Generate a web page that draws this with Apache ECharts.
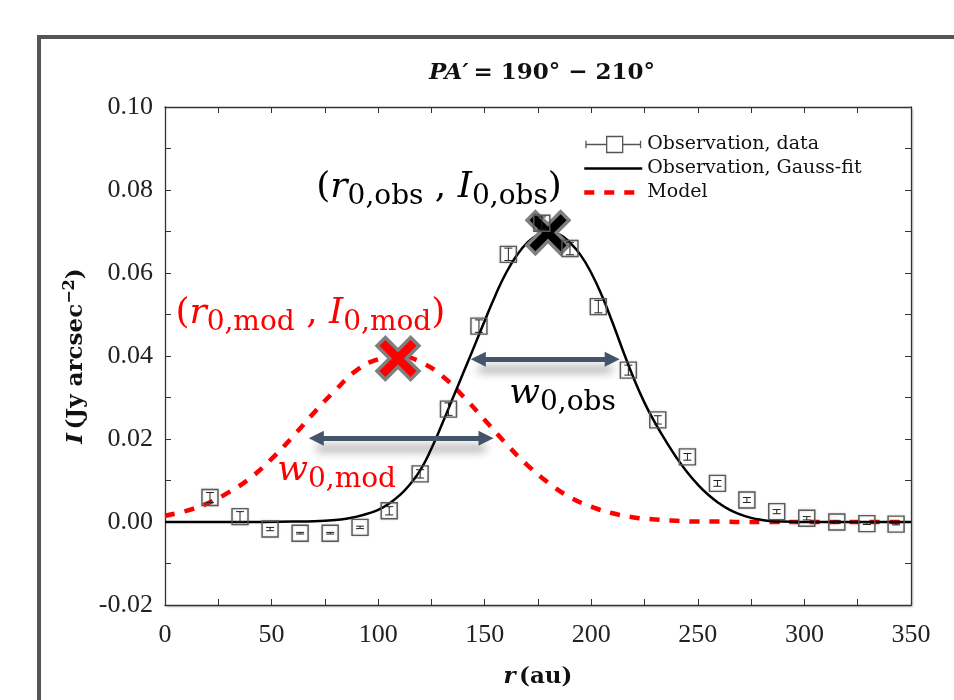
<!DOCTYPE html>
<html><head><meta charset="utf-8">
<script src="https://cdn.jsdelivr.net/npm/echarts@6/dist/echarts.min.js"></script>
<style>html,body{margin:0;padding:0;background:#fff}#c{width:954px;height:700px}</style>
</head><body><div id="c"></div>
<script>
// ---- Observation data (squares with error bars) ----
const obsR = [21.1,35.2,49.3,63.4,77.5,91.5,105.2,119.7,133.0,147.3,161.1,176.8,190.0,203.3,217.4,231.2,245.1,259.2,273.0,287.0,301.1,315.2,329.3,343.0];
const obsI = [0.0059,0.0013,-0.0017,-0.0027,-0.0027,-0.0013,0.0027,0.0116,0.0272,0.0472,0.0645,0.0720,0.0659,0.0519,0.0366,0.0246,0.0157,0.0093,0.0053,0.0025,0.0009,0.0000,-0.0004,-0.0005];
const obsErr = [0.0012,0.0012,0.0004,0.0002,0.0002,0.0003,0.0010,0.0010,0.0015,0.0015,0.0015,0.0015,0.0015,0.0015,0.0012,0.0010,0.0008,0.0007,0.0006,0.0005,0.0004,0.0003,0.0002,0.0002];

// ---- Observation Gauss-fit (black solid) ----
const fitR = [0,20,40,60,70,80,85,90,95,100,105,110,115,120,125,130,135,140,145,150,155,160,165,170,175,180,185,190,195,200,205,210,215,220,225,230,235,240,245,250,255,260,265,270,275,280,285,290,300,325,350];
const fitI = [0,0,0,0.0001,0.0002,0.0005,0.0008,0.0013,0.0020,0.0029,0.0044,0.0064,0.0091,0.0127,0.0177,0.0236,0.0298,0.0360,0.0422,0.0485,0.0546,0.0600,0.0642,0.0673,0.0692,0.0699,0.0693,0.0673,0.0643,0.0600,0.0545,0.0480,0.0411,0.0345,0.0287,0.0238,0.0195,0.0155,0.0120,0.0090,0.0065,0.0045,0.0029,0.0018,0.0010,0.0005,0.0002,0.0001,0,0,0];

// ---- Model (red dashed) ----
const modR = [0,10,20,30,40,50,60,70,80,90,100,110,120,130,140,150,160,170,180,190,200,210,220,230,240,250,260,270,280,300,320,346];
const modI = [0.0015,0.0027,0.0045,0.0072,0.0106,0.0152,0.0206,0.0264,0.0318,0.0366,0.0392,0.0400,0.0385,0.0352,0.0302,0.0246,0.0189,0.0137,0.0094,0.0060,0.0037,0.0021,0.0011,0.0006,0.0003,0.0001,0.0001,0,0,0,0,0];

// ---- Annotations (data coordinates) ----
const obsPeak = [179.7, 0.0697];
const modPeak = [109.3, 0.0394];
const obsArrow = [[147.0, 0.0392], [209.8, 0.0392]];
const modArrow = [[71.0, 0.0202], [150.6, 0.0202]];
const labelObsPeak = { at: [128.6, 0.0805], color: '#000', parts: [['p','('],['m','r'],['s','0,obs'],['p',' , '],['m','I'],['s','0,obs'],['p',')']] };
const labelModPeak = { at: [68.2, 0.0503], color: '#ff0000', parts: [['p','('],['m','r'],['s','0,mod'],['p',' , '],['m','I'],['s','0,mod'],['p',')']] };
const labelObsW = { at: [186.5, 0.0310], color: '#000', parts: [['m','w'],['s','0,obs']] };
const labelModW = { at: [80.5, 0.0124], color: '#ff0000', parts: [['m','w'],['s','0,mod']] };

const titleText = ['PA′', '= 190° − 210°'];
const legendNames = ['Observation, data', 'Observation, Gauss-fit', 'Model'];

const serif = 'DejaVu Serif';
const tickFont = 'Liberation Serif';
const xPlus = 'path://M-0.85,-4.5L0.85,-4.5L0.85,-0.85L4.5,-0.85L4.5,0.85L0.85,0.85L0.85,4.5L-0.85,4.5L-0.85,0.85L-4.5,0.85L-4.5,-0.85L-0.85,-0.85Z';

const chart = echarts.init(document.getElementById('c'));

const axisCommon = {
  min: 0, max: 350, interval: 50,
  axisLine: { show: true, onZero: false, lineStyle: { color: '#333', width: 1.3 } },
  axisTick: { show: true, inside: true, length: 6, lineStyle: { color: '#333', width: 1 } },
  minorTick: { show: true, splitNumber: 2, length: 6, lineStyle: { color: '#333', width: 1 } },
  splitLine: { show: false }
};
const yCommon = Object.assign({}, axisCommon, { min: -0.02, max: 0.10, interval: 0.02 });

const option = {
  animation: false,
  backgroundColor: '#fff',
  title: {
    text: '{a|' + titleText[0] + '} {b|' + titleText[1] + '}',
    left: 537, top: 57, textAlign: 'center',
    textStyle: {
      rich: {
        a: { fontFamily: serif, fontSize: 23, fontWeight: 'bold', fontStyle: 'italic', color: '#111' },
        b: { fontFamily: serif, fontSize: 23, fontWeight: 'bold', color: '#111' }
      }
    }
  },
  grid: { left: 165, right: 43, top: 107, bottom: 95, show: true, backgroundColor: '#fff', borderWidth: 0,
          shadowColor: 'rgba(0,0,0,0.25)', shadowBlur: 2, shadowOffsetX: 2, shadowOffsetY: 2 },
  legend: {
    orient: 'vertical', left: 582, top: 135, padding: 0, itemWidth: 58, itemHeight: 16, itemGap: 5,
    textStyle: { fontFamily: serif, fontSize: 19, color: '#111', lineHeight: 16 },
    data: [
      { name: legendNames[0], icon: 'path://M0,4.5L0,12.5M0,8.5L22,8.5M22,0L39,0L39,17L22,17ZM39,8.5L58,8.5M58,4.5L58,12.5',
        itemStyle: { color: 'rgba(0,0,0,0)', borderColor: '#555', borderWidth: 1.3 } },
      { name: legendNames[1], itemStyle: { color: 'rgba(0,0,0,0)', borderWidth: 0, opacity: 0 },
        lineStyle: { color: '#000', width: 2.5, type: 'solid' } },
      { name: legendNames[2], itemStyle: { color: 'rgba(0,0,0,0)', borderWidth: 0, opacity: 0 },
        lineStyle: { color: '#ff0000', width: 4.5, type: [10, 10] } }
    ]
  },
  xAxis: [
    Object.assign({}, axisCommon, {
      type: 'value', position: 'bottom',
      axisLabel: { margin: 17, fontFamily: tickFont, fontSize: 26, color: '#222' },
      name: '{i|r} {n|(au)}', nameLocation: 'middle', nameGap: 61,
      nameTextStyle: { rich: {
        i: { fontFamily: serif, fontSize: 23, fontWeight: 'bold', fontStyle: 'italic', color: '#111' },
        n: { fontFamily: serif, fontSize: 23, fontWeight: 'bold', color: '#111' } } }
    }),
    Object.assign({}, axisCommon, { type: 'value', position: 'top', axisLabel: { show: false } })
  ],
  yAxis: [
    Object.assign({}, yCommon, {
      type: 'value', position: 'left',
      axisLabel: { margin: 12, fontFamily: tickFont, fontSize: 26, color: '#222', formatter: v => v.toFixed(2) },
      name: '{i|I} {n|(Jy arcsec}{s|−2}{n|)}', nameLocation: 'middle', nameGap: 75, nameRotate: 90,
      nameTextStyle: { rich: {
        i: { fontFamily: serif, fontSize: 23, fontWeight: 'bold', fontStyle: 'italic', color: '#111', lineHeight: 28 },
        n: { fontFamily: serif, fontSize: 23, fontWeight: 'bold', color: '#111', lineHeight: 28 },
        s: { fontFamily: serif, fontSize: 16, fontWeight: 'bold', color: '#111', lineHeight: 16, verticalAlign: 'top' } } }
    }),
    Object.assign({}, yCommon, { type: 'value', position: 'right', axisLabel: { show: false } })
  ],
  series: [
    {
      name: legendNames[2], type: 'line', smooth: true, symbol: 'none', z: 3,
      data: modR.map((r, i) => [r, modI[i]]),
      lineStyle: { color: '#ff0000', width: 4.5, type: [10, 10] },
      itemStyle: { color: '#ff0000' }
    },
    {
      name: legendNames[1], type: 'line', smooth: true, symbol: 'none', z: 4,
      data: fitR.map((r, i) => [r, fitI[i]]),
      lineStyle: { color: '#000', width: 2.5 },
      itemStyle: { color: '#000' }
    },
    {
      name: legendNames[0], type: 'custom', z: 5,
      itemStyle: { color: '#555' },
      data: obsR.map((r, i) => [r, obsI[i], obsErr[i]]),
      renderItem: function (params, api) {
        const x = api.value(0), y = api.value(1), e = api.value(2);
        const p = api.coord([x, y]);
        const t = api.coord([x, y + e]);
        const b = api.coord([x, y - e]);
        const s = 16, c = 4;
        return { type: 'group', children: [
          { type: 'rect', shape: { x: p[0] - s / 2, y: p[1] - s / 2, width: s, height: s },
            style: { fill: 'none', stroke: '#5a5a5a', lineWidth: 1.4, shadowColor: 'rgba(0,0,0,0.25)', shadowBlur: 2 } },
          { type: 'line', shape: { x1: p[0], y1: t[1], x2: p[0], y2: b[1] }, style: { stroke: '#222', lineWidth: 1 } },
          { type: 'line', shape: { x1: p[0] - c, y1: t[1], x2: p[0] + c, y2: t[1] }, style: { stroke: '#222', lineWidth: 1 } },
          { type: 'line', shape: { x1: p[0] - c, y1: b[1], x2: p[0] + c, y2: b[1] }, style: { stroke: '#222', lineWidth: 1 } }
        ] };
      }
    },
    {
      name: 'annotations', type: 'line', data: [], z: 10,
      markLine: {
        silent: true, symbol: ['triangle', 'triangle'], symbolSize: [15, 15], label: { show: false },
        lineStyle: { color: '#44546A', width: 5, type: 'solid', shadowBlur: 10, shadowColor: 'rgba(0,0,0,0.45)', shadowOffsetY: 10 },
        data: [
          [{ coord: obsArrow[0] }, { coord: obsArrow[1] }],
          [{ coord: modArrow[0] }, { coord: modArrow[1] }]
        ]
      },
      markPoint: {
        silent: true, symbol: xPlus, symbolSize: 44, symbolRotate: 45, label: { show: false },
        data: [
          { coord: obsPeak, itemStyle: { color: '#7f7f7f', borderColor: '#7f7f7f', borderWidth: 7 } },
          { coord: obsPeak, itemStyle: { color: '#000' } },
          { coord: modPeak, itemStyle: { color: '#7f7f7f', borderColor: '#7f7f7f', borderWidth: 7 } },
          { coord: modPeak, itemStyle: { color: '#ff0000' } }
        ]
      }
    }
  ]
};
chart.setOption(option);

function richLabel(lab) {
  const pt = chart.convertToPixel({ gridIndex: 0 }, lab.at);
  const txt = lab.parts.map(p => '{' + p[0] + '|' + p[1] + '}').join('');
  return {
    type: 'text', x: pt[0], y: pt[1], z: 20, silent: true,
    style: {
      text: txt, align: 'center', verticalAlign: 'middle', fill: lab.color,
      rich: {
        p: { fontFamily: serif, fontSize: 36, fill: lab.color, lineHeight: 46 },
        m: { fontFamily: serif, fontSize: 36, fontStyle: 'italic', fill: lab.color, lineHeight: 46 },
        s: { fontFamily: serif, fontSize: 28, fill: lab.color, lineHeight: 24, verticalAlign: 'bottom' }
      }
    }
  };
}

chart.setOption({
  graphic: [
    { type: 'rect', silent: true, shape: { x: 37, y: 35, width: 917, height: 4 }, style: { fill: '#555' }, z: 0 },
    { type: 'rect', silent: true, shape: { x: 37, y: 35, width: 4, height: 665 }, style: { fill: '#555' }, z: 0 },
    richLabel(labelObsPeak), richLabel(labelModPeak), richLabel(labelObsW), richLabel(labelModW)
  ]
});
</script></body></html>
